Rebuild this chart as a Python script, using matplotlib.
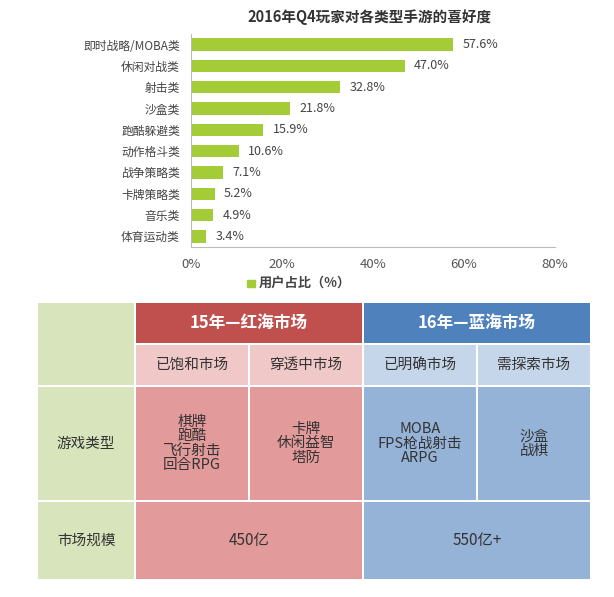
import matplotlib
matplotlib.use("Agg")
import matplotlib.pyplot as plt
from matplotlib.patches import Rectangle
from matplotlib import font_manager as fm

cjk = [f.name for f in fm.fontManager.ttflist if "CJK" in f.name]
pref = ["Noto Sans CJK SC", "Noto Sans CJK JP", "Noto Sans CJK TC", "Noto Sans CJK KR"]
names = [p for p in pref if p in cjk] + sorted(set(cjk))
plt.rcParams['font.family'] = 'sans-serif'
plt.rcParams['font.sans-serif'] = names + ['DejaVu Sans']

categories = ["即时战略/MOBA类", "休闲对战类", "射击类", "沙盒类", "跑酷躲避类",
              "动作格斗类", "战争策略类", "卡牌策略类", "音乐类", "体育运动类"]
values = [57.6, 47.0, 32.8, 21.8, 15.9, 10.6, 7.1, 5.2, 4.9, 3.4]
xticks = [0, 20, 40, 60, 80]

header_groups = ["15年—红海市场", "16年—蓝海市场"]
sub_headers = ["已饱和市场", "穿透中市场", "已明确市场", "需探索市场"]
row_labels = ["游戏类型", "市场规模"]
game_types = ["棋牌\n跑酷\n飞行射击\n回合RPG", "卡牌\n休闲益智\n塔防", "MOBA\nFPS枪战射击\nARPG", "沙盒\n战棋"]
market_sizes = ["450亿", "550亿+"]

W, H = 614, 597
fig = plt.figure(figsize=(W/100, H/100), dpi=100)

def px_axes(x0, y0, x1, y1):
    return fig.add_axes([x0/W, 1-y1/H, (x1-x0)/W, (y1-y0)/H])

# Bar chart
ax = px_axes(191, 34, 555, 247)
y = list(range(len(categories)))
ax.barh(y, values, height=0.58, color="#a4cc36")
ax.set_ylim(len(categories)-0.5, -0.5)
ax.set_xlim(0, 80)
ax.set_xticks(xticks)
ax.set_xticklabels([f"{t}%" for t in xticks], color="#555555", fontsize=9.5)
ax.set_yticks(y)
ax.set_yticklabels(categories, fontsize=8.5, color="#444444")
ax.tick_params(length=0, pad=8)
for s in ["top", "right"]:
    ax.spines[s].set_visible(False)
for s in ["left", "bottom"]:
    ax.spines[s].set_color("#bbbbbb")
for i, v in enumerate(values):
    ax.text(v + 2, i, f"{v:.1f}%", va="center", fontsize=9, color="#444444")
fig.text(370/W, 1-17/H, "2016年Q4玩家对各类型手游的喜好度", ha="center", va="center",
         fontsize=10.5, fontweight="bold", color="#333333")
fig.patches.append(Rectangle((247/W, 1-287/H), 8/W, 7/H, transform=fig.transFigure, color="#a4cc36"))
fig.text(259/W, 1-283/H, "用户占比（%）", ha="left", va="center", fontsize=9.5,
         fontweight="bold", color="#444444")

# Table
tax = px_axes(0, 0, W, H)
tax.set_xlim(0, W); tax.set_ylim(H, 0); tax.axis("off")
xs = [37, 135, 249, 363, 477, 591]
ys = [302, 344, 386, 501, 580]
g = 1.5
def cell(x0, y0, x1, y1, c, txt="", **kw):
    tax.add_patch(Rectangle((x0+g/2, y0+g/2), x1-x0-g, y1-y0-g, color=c, lw=0))
    if txt:
        tax.text((x0+x1)/2, (y0+y1)/2, txt, ha="center", va="center",
                 linespacing=1.05, **kw)
green = "#d8e4bc"
cell(xs[0], ys[0], xs[1], ys[2], green)
cell(xs[0], ys[2], xs[1], ys[3], green, row_labels[0], fontsize=10.5, color="#333333")
cell(xs[0], ys[3], xs[1], ys[4], green, row_labels[1], fontsize=10.5, color="#333333")
cell(xs[1], ys[0], xs[3], ys[1], "#c0504d", header_groups[0], fontsize=12, fontweight="bold", color="white")
cell(xs[3], ys[0], xs[5], ys[1], "#4f81bd", header_groups[1], fontsize=12, fontweight="bold", color="white")
subc = ["#f0c8c8", "#f0c8c8", "#c6d6ea", "#c6d6ea"]
bodyc = ["#e39a9a", "#e39a9a", "#95b3d7", "#95b3d7"]
for i in range(4):
    cell(xs[i+1], ys[1], xs[i+2], ys[2], subc[i], sub_headers[i], fontsize=10.5, color="#333333")
    cell(xs[i+1], ys[2], xs[i+2], ys[3], bodyc[i], game_types[i], fontsize=10.5, color="#333333")
cell(xs[1], ys[3], xs[3], ys[4], "#e39a9a", market_sizes[0], fontsize=11, color="#333333")
cell(xs[3], ys[3], xs[5], ys[4], "#95b3d7", market_sizes[1], fontsize=11, color="#333333")

fig.savefig("out.png", dpi=100)
